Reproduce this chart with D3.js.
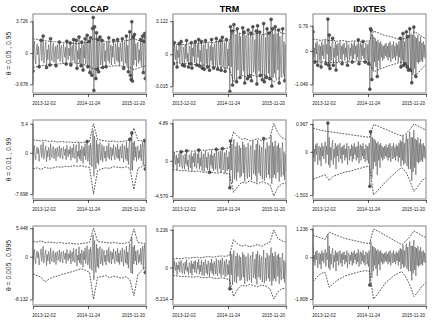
<!DOCTYPE html>
<html>
<head>
<meta charset="utf-8">
<script src="https://cdn.jsdelivr.net/npm/d3@7"></script>
<style>
  body { margin: 0; background: #fff; }
  text { font-family: "Liberation Sans", Arial, sans-serif; }
</style>
</head>
<body>
<svg id="chart"></svg>
<script>
const assets = ['COLCAP', 'TRM', 'IDXTES'];
const thetaLabels = ['θ = 0.05 , 0.95', 'θ = 0.01 , 0.99', 'θ = 0.005 , 0.995'];
const dateLabels = ['2013-12-02', '2014-11-24', '2015-11-20'];
const dateStart = '2013-09-09';
const dateEnd = '2016-03-03';

// daily returns (same in every row of a column)
const colcap = [
  -2.1, 0.9, 1.4, -0.6, -1.3, 0.3, 1.1, -0.2, 0.8, -1.6, -0.4, 0.7,
  1.5, -0.9, 0.2, 2.0, -1.2, -0.5, 0.9, 1.3, -1.7, 0.4, -0.8, 1.0,
  0.3, -1.4, 1.7, -0.3, -0.9, 0.6, 1.2, -1.1, 0.1, 0.8, -1.5, 0.5,
  1.0, -0.7, -0.2, 1.3, -1.0, 0.4, 0.9, -0.6, -1.2, 1.1, 0.2, -0.5,
  0.7, -1.3, 1.4, 0.1, -0.8, 0.6, -0.3, 1.2, -1.4, 0.5, 0.9, -0.9,
  1.6, -0.4, -1.1, 0.8, 1.5, -1.8, 0.3, -0.7, 1.9, -1.2, 0.6, -1.5,
  1.3, 0.4, -2.0, 1.0, -0.6, 1.7, -1.3, 0.2, 2.1, -1.6, -0.5, 1.4,
  -2.3, 1.8, 0.7, -2.6, 2.9, 4.2, -4.4, 3.1, -1.5, -3.0, 2.4, -1.9,
  1.6, -2.2, 0.9, 1.9, -1.4, -0.8, 1.5, -1.7, 0.5, 1.2, -1.0, 0.3,
  -1.6, 1.3, 0.6, -0.9, 1.8, -1.2, 0.2, 1.0, -1.4, 0.8, -0.5, 1.5,
  -0.7, -1.3, 1.1, 0.4, -0.9, 1.6, -1.1, 0.7, -1.5, 1.2, 0.3, -1.0,
  1.7, -0.6, -1.8, 1.3, 0.5, -1.2, 2.0, -1.5, 0.9, -2.2, 1.4, 2.5,
  -2.6, -3.1, 3.7, -3.3, 1.9, -1.4, 2.2, -0.8, 1.1, -1.6, 0.7, 1.3,
  -1.2, 0.4, -0.9, 1.6, -1.5, 0.8, 2.0, -2.3, 1.4, 2.3, -3.0, 1.9
];
const trm = [
  0.6, -0.9, 1.1, 0.2, -0.5, 0.8, -1.2, 0.4, -0.3, 1.0, -0.8, 0.5,
  1.2, -0.6, -1.0, 0.7, 0.3, -1.1, 0.9, -0.4, 1.3, -0.7, 0.1, -1.2,
  0.8, 0.5, -0.9, 1.1, -1.3, 0.6, -0.2, 1.0, -0.8, 1.2, -0.5, -1.0,
  0.9, -0.3, 1.4, -1.1, 0.4, -0.7, 1.2, -1.3, 0.2, 0.9, -1.4, 0.6,
  1.3, -0.9, 0.5, -1.2, 1.1, 0.3, -1.5, 0.8, -0.6, 1.4, -1.0, 0.7,
  -1.3, 1.0, 0.4, -1.1, 1.5, -0.8, -1.4, 1.2, 0.6, -1.0, 1.3, -1.5,
  0.9, 1.6, -1.2, -0.4, 1.1, -1.6, 0.7, 1.4, -1.3, 0.5, -1.1, 1.2,
  -3.5, 2.6, -1.2, 2.2, -2.9, 1.4, 2.8, -2.4, -0.9, 1.9, -2.6, 2.4,
  -1.5, 0.8, 2.0, -2.2, 1.7, -2.0, -0.6, 2.5, -1.6, 2.1, -2.7, 1.2,
  1.8, -1.4, -2.3, 2.3, -0.9, -2.1, 1.5, 2.0, -2.5, 0.7, 2.6, -1.7,
  -1.0, 1.4, -1.9, 2.2, -2.8, 2.7, 0.6, -1.6, 2.1, -2.0, 1.0, 1.8,
  -2.4, 0.5, 2.9, -2.6, -1.2, 1.6, -2.2, 2.4, 1.1, -1.8, 2.0, -2.3,
  1.5, 3.3, -3.0, 2.4, -2.2, 1.9, -1.8, 2.6, -2.3, 0.9, 2.0, -1.5,
  2.3, -2.7, 1.7, -0.8, -2.1, 1.6, 2.4, -1.9, 1.2, -2.5, 0.9, -1.4
];
const idxtes = [
  0.6, -0.2, 0.1, -0.35, 0.25, -0.1, 0.3, -0.45, 0.05, 0.2, -0.3, 0.15,
  -0.5, 0.3, -0.15, 0.2, -0.25, 0.1, 0.35, -0.4, 0.2, -0.1, 1.0, -0.45,
  0.5, -0.55, 0.15, -0.3, 0.25, 0.4, -0.45, 0.1, -0.2, 0.3, -0.6, 0.2,
  -0.15, 0.25, -0.35, 0.1, 0.3, -0.25, 0.15, -0.4, 0.2, -0.1, 0.25, -0.3,
  0.1, -0.2, 0.3, -0.45, 0.15, 0.2, -0.3, 0.1, -0.15, 0.25, -0.35, 0.2,
  -0.25, 0.3, -0.1, 0.15, -0.3, 0.2, -0.2, 0.35, -0.4, 0.1, 0.25, -0.3,
  0.2, -0.15, 0.3, -0.25, 0.1, -0.35, 0.25, 0.15, -0.3, 0.2, -0.4, 0.3,
  -1.2, 0.7, 0.65, -0.9, 0.5, -0.6, 0.45, -0.35, 0.4, -0.5, 0.3, -0.8,
  0.35, -0.3, 0.25, -0.55, 0.3, -0.2, 0.2, -0.3, 0.15, -0.25, 0.2, -0.15,
  0.25, -0.2, 0.15, -0.3, 0.25, -0.2, 0.3, -0.35, 0.1, 0.2, -0.25, 0.3,
  -0.2, 0.15, -0.3, 0.25, -0.15, 0.2, -0.35, 0.3, -0.2, 0.4, -0.5, 0.35,
  -0.3, 0.55, -0.45, 0.3, -0.4, 0.35, 0.6, -0.5, 0.45, -0.6, 0.4, 0.7,
  -0.6, 0.5, -1.0, 0.5, -0.7, 0.75, -0.55, 0.45, -0.8, 0.4, -0.35, 0.5,
  -0.4, 0.3, -0.35, 0.45, -0.3, 0.25, -0.35, 0.3, -0.2, 0.2, -0.25, 0.15
];

// VaR bands, 29 evenly spaced values over the sample
const colcapUp1 = [1.7,1.6,1.5,1.45,1.4,1.35,1.3,1.25,1.2,1.2,1.15,1.1,1.15,1.2,1.3,1.7,1.6,1.45,1.35,1.3,1.3,1.35,1.4,1.45,1.55,1.7,1.5,1.35,1.25];
const colcapLo1 = [-1.7,-1.6,-1.5,-1.45,-1.4,-1.35,-1.3,-1.25,-1.2,-1.2,-1.15,-1.2,-1.3,-1.4,-1.5,-1.9,-1.8,-1.7,-1.6,-1.55,-1.5,-1.5,-1.55,-1.6,-1.7,-1.95,-1.8,-1.6,-1.5];
const colcapUp2 = [2.4,2.3,2.2,2.3,2.1,2.2,2.0,2.1,2.0,2.0,1.9,2.0,1.9,2.0,2.1,5.4,2.5,2.3,2.2,2.1,2.2,2.0,2.1,2.2,2.3,4.6,2.3,2.2,2.0];
const colcapLo2 = [-3.0,-2.8,-3.1,-2.7,-2.9,-2.8,-2.6,-2.7,-2.5,-2.6,-2.4,-2.5,-2.4,-2.6,-2.7,-7.7,-3.3,-3.0,-2.8,-2.9,-2.6,-2.7,-2.8,-2.6,-2.9,-6.8,-2.9,-2.6,-2.2];
const colcapUp3 = [2.9,2.8,3.0,2.7,2.8,2.7,2.6,2.7,2.5,2.6,2.5,2.4,2.5,2.6,2.7,5.45,2.9,2.8,2.7,2.6,2.7,2.6,2.5,2.6,2.8,5.3,2.7,2.6,2.4];
const colcapLo3 = [-3.3,-3.6,-3.9,-4.8,-4.2,-3.9,-3.7,-3.4,-3.2,-3.0,-2.8,-2.5,-2.3,-2.6,-3.0,-8.1,-3.9,-3.8,-3.6,-4.0,-3.7,-3.9,-4.1,-3.8,-4.4,-7.4,-3.4,-2.6,-1.9];

const trmUp1 = [0.85,0.9,0.95,0.9,1.0,1.05,1.0,1.05,1.1,1.15,1.1,1.2,1.25,1.25,1.3,2.3,2.1,1.9,2.0,1.8,1.9,2.0,1.85,1.9,2.0,2.4,2.2,2.0,1.9];
const trmLo1 = [-0.75,-0.8,-0.85,-0.9,-0.85,-0.95,-1.0,-1.05,-1.0,-1.1,-1.15,-1.2,-1.25,-1.3,-1.35,-2.6,-2.3,-2.0,-2.1,-1.9,-2.0,-2.1,-1.9,-2.0,-2.2,-2.6,-2.3,-2.1,-1.9];
const trmUp2 = [1.1,1.2,1.15,1.25,1.3,1.25,1.35,1.4,1.35,1.45,1.5,1.45,1.55,1.6,1.7,3.8,3.2,2.8,2.9,2.6,2.7,2.9,2.6,2.8,3.0,4.89,3.6,3.0,2.8];
const trmLo2 = [-1.1,-1.2,-1.3,-1.25,-1.35,-1.4,-1.3,-1.45,-1.5,-1.4,-1.55,-1.6,-1.5,-1.65,-1.7,-4.1,-3.4,-2.8,-2.9,-2.6,-2.8,-3.0,-2.7,-2.9,-3.1,-4.58,-3.4,-3.0,-2.9];
const trmUp3 = [1.4,1.5,1.45,1.6,1.55,1.65,1.7,1.6,1.75,1.8,1.7,1.85,1.9,1.85,2.0,4.6,3.9,3.5,3.7,3.4,3.6,3.8,3.5,3.9,4.2,6.2,4.8,4.4,4.2];
const trmLo3 = [-1.3,-1.4,-1.5,-1.45,-1.55,-1.6,-1.5,-1.65,-1.7,-1.6,-1.75,-1.8,-1.7,-1.85,-2.0,-4.8,-3.6,-2.9,-3.1,-2.8,-3.0,-3.2,-2.9,-3.1,-3.5,-5.2,-4.0,-3.5,-3.4];

const idxtesUp1 = [0.38,0.35,0.33,0.36,0.32,0.34,0.3,0.33,0.31,0.29,0.32,0.3,0.28,0.3,0.32,0.62,0.58,0.52,0.48,0.45,0.42,0.38,0.36,0.4,0.48,0.6,0.55,0.45,0.38];
const idxtesLo1 = [-0.34,-0.32,-0.36,-0.33,-0.38,-0.35,-0.37,-0.34,-0.36,-0.33,-0.35,-0.32,-0.34,-0.33,-0.36,-0.65,-0.6,-0.55,-0.5,-0.46,-0.42,-0.38,-0.35,-0.4,-0.55,-0.78,-0.7,-0.55,-0.42];
const idxtesUp2 = [0.82,0.78,0.75,0.72,0.7,0.68,0.66,0.64,0.62,0.6,0.58,0.56,0.54,0.52,0.5,0.95,0.9,0.84,0.78,0.72,0.66,0.6,0.55,0.62,0.78,0.967,0.9,0.82,0.76];
const idxtesLo2 = [-0.95,-0.9,-0.85,-0.8,-1.0,-0.85,-0.8,-0.75,-0.7,-0.68,-0.64,-0.6,-0.56,-0.52,-0.5,-1.503,-1.35,-1.2,-1.05,-0.9,-0.78,-0.65,-0.55,-0.7,-1.0,-1.38,-1.2,-1.0,-0.9];
const idxtesUp3 = [0.95,0.9,0.85,0.78,1.1,1.02,0.95,0.88,0.82,0.78,0.74,0.7,0.66,0.62,0.6,1.236,1.15,1.05,0.95,0.85,0.75,0.65,0.55,0.7,0.9,1.15,1.05,0.95,0.86];
const idxtesLo3 = [-1.05,-0.85,-0.7,-0.65,-1.3,-1.15,-1.0,-0.9,-0.8,-0.75,-0.7,-0.65,-0.6,-0.58,-0.6,-1.808,-1.6,-1.35,-1.1,-0.95,-0.8,-0.7,-0.62,-0.85,-1.2,-1.7,-1.5,-1.25,-1.1];

// y tick values printed on each panel (top, bottom), one pair per row
const colcapTicks = [[3.726, -3.678], [5.4, -7.698], [5.448, -8.132]];
const trmTicks = [[3.122, -3.015], [4.89, -4.579], [6.236, -5.214]];
const idxtesTicks = [[0.79, -1.049], [0.967, -1.503], [1.236, -1.808]];

// layout
const width = 433, height = 328;
const colLeft = [33, 173, 313];
const rowTop = [14, 120, 226];
const panelW = 113, panelH = 79;
const yDomains = {
    COLCAP: [[-4.7, 4.6], [-8.6, 6.1], [-9.2, 5.85]],
    TRM: [[-3.65, 3.8], [-4.97, 5.32], [-6.2, 6.86]],
    IDXTES: [[-1.32, 1.16], [-1.64, 1.105], [-2.07, 1.365]]
};

const series = { COLCAP: colcap, TRM: trm, IDXTES: idxtes };
const bands = {
    COLCAP: [[colcapUp1, colcapLo1], [colcapUp2, colcapLo2], [colcapUp3, colcapLo3]],
    TRM: [[trmUp1, trmLo1], [trmUp2, trmLo2], [trmUp3, trmLo3]],
    IDXTES: [[idxtesUp1, idxtesLo1], [idxtesUp2, idxtesLo2], [idxtesUp3, idxtesLo3]]
};
const ticks = { COLCAP: colcapTicks, TRM: trmTicks, IDXTES: idxtesTicks };

const parseDate = d3.timeParse('%Y-%m-%d');

const svg = d3.select('#chart')
    .attr('width', width)
    .attr('height', height);

svg.append('defs').append('clipPath')
    .attr('id', 'clip')
    .append('rect')
    .attr('width', panelW)
    .attr('height', panelH);

function drawPanel(asset, col, row) {
    const ret = series[asset];
    const [up, lo] = bands[asset][row];
    const n = ret.length;

    const g = svg.append('g')
        .attr('transform', `translate(${colLeft[col]}, ${rowTop[row]})`);

    const xscale = d3.scaleLinear()
        .domain([0, n - 1])
        .range([0, panelW]);
    const tscale = d3.scaleTime()
        .domain([parseDate(dateStart), parseDate(dateEnd)])
        .range([0, panelW]);
    const yscale = d3.scaleLinear()
        .domain(yDomains[asset][row])
        .range([panelH, 0]);

    // band value at any observation, piecewise between the knots
    const knots = up.map((d, j) => j * (n - 1) / (up.length - 1));
    const upAt = d3.scaleLinear().domain(knots).range(up);
    const loAt = d3.scaleLinear().domain(knots).range(lo);

    const plot = g.append('g').attr('clip-path', 'url(#clip)');

    const line = d3.line()
        .x((d, i) => xscale(i))
        .y(d => yscale(d));
    plot.append('path')
        .attr('d', line(ret))
        .attr('fill', 'none')
        .attr('stroke', '#5a5a5a')
        .attr('stroke-width', 0.6);

    const bandLine = d3.line()
        .x((d, j) => xscale(knots[j]))
        .y(d => yscale(d));
    [up, lo].forEach(b => {
        plot.append('path')
            .attr('d', bandLine(b))
            .attr('fill', 'none')
            .attr('stroke', '#111')
            .attr('stroke-width', 0.7)
            .attr('stroke-dasharray', '1.8,1.2');
    });

    const hits = ret.map((v, i) => ({ i, v }))
        .filter(d => d.v > upAt(d.i) || d.v < loAt(d.i));
    plot.selectAll('circle')
        .data(hits)
        .join('circle')
        .attr('cx', d => xscale(d.i))
        .attr('cy', d => yscale(d.v))
        .attr('r', 1.5)
        .attr('fill', '#555')
        .attr('stroke', '#222')
        .attr('stroke-width', 0.4);

    g.append('rect')
        .attr('width', panelW)
        .attr('height', panelH)
        .attr('fill', 'none')
        .attr('stroke', '#999')
        .attr('stroke-width', 1.2);

    // y axis
    const [tTop, tBot] = ticks[asset][row];
    const yaxis = d3.axisLeft(yscale)
        .tickValues([tTop, 0, tBot])
        .tickFormat(d => String(d))
        .tickSize(3)
        .tickPadding(2);
    const yg = g.append('g').call(yaxis);
    yg.select('.domain').remove();
    yg.selectAll('line').attr('stroke-width', 0.6);
    yg.selectAll('text').style('font-size', '4.8px').attr('fill', '#222');
    yg.append('line')
        .attr('y1', yscale(tTop))
        .attr('y2', yscale(tBot))
        .attr('stroke', '#000')
        .attr('stroke-width', 0.6);

    // x axis: ticks at start, middle date and end
    const xaxis = d3.axisBottom(tscale)
        .tickValues([parseDate(dateStart), parseDate(dateLabels[1]), parseDate(dateEnd)])
        .tickFormat('')
        .tickSize(3)
        .tickSizeOuter(0);
    const xg = g.append('g')
        .attr('transform', `translate(0, ${panelH + 1})`)
        .call(xaxis);
    xg.select('.domain').attr('stroke-width', 0.6);
    xg.selectAll('line').attr('stroke-width', 0.6);

    const xlabels = d3.axisBottom(tscale)
        .tickValues(dateLabels.map(parseDate))
        .tickFormat(d3.timeFormat('%Y-%m-%d'))
        .tickSize(0)
        .tickPadding(8);
    const lg = g.append('g')
        .attr('transform', `translate(0, ${panelH + 1})`)
        .call(xlabels);
    lg.select('.domain').remove();
    lg.selectAll('text').style('font-size', '4.6px').attr('fill', '#222');

    if (row === 0) {
        svg.append('text')
            .attr('x', colLeft[col] + panelW / 2)
            .attr('y', 12)
            .attr('text-anchor', 'middle')
            .style('font-size', '9px')
            .style('font-weight', 'bold')
            .text(asset);
    }
    if (col === 0) {
        svg.append('text')
            .attr('transform', `translate(11, ${rowTop[row] + panelH / 2}) rotate(-90)`)
            .attr('text-anchor', 'middle')
            .style('font-size', '6.8px')
            .attr('fill', '#222')
            .text(thetaLabels[row]);
    }
}

assets.forEach((asset, col) => {
    [0, 1, 2].forEach(row => drawPanel(asset, col, row));
});
</script>
</body>
</html>
